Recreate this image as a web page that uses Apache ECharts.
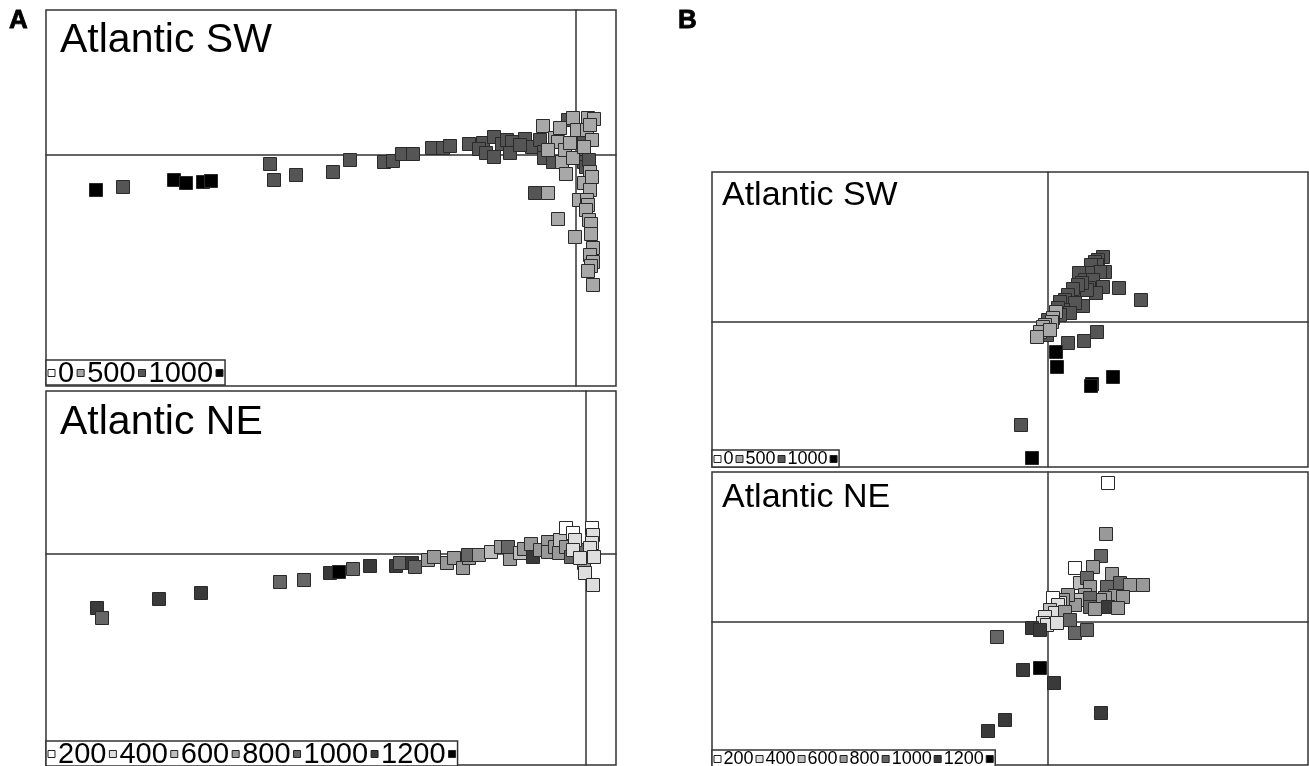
<!DOCTYPE html>
<html><head><meta charset="utf-8">
<script src="https://cdn.jsdelivr.net/npm/echarts@6/dist/echarts.min.js"></script>
<style>html,body{margin:0;padding:0;background:#fff}#c{width:1309px;height:766px}</style>
</head><body><div id="c"></div>
<script>
// ---- Data: [score axis 1, score axis 2, depth (m)] ----
const panelA_SW = [
  [-4.80,-0.35,1200],[-4.53,-0.32,750],[-4.02,-0.25,1200],[-3.90,-0.28,1200],[-3.73,-0.27,1200],[-3.65,-0.26,1200],
  [-3.06,-0.09,750],[-3.02,-0.25,750],[-2.80,-0.20,750],[-2.43,-0.17,750],[-2.26,-0.05,750],[-1.92,-0.07,750],
  [-1.83,-0.06,750],[-1.74,0.01,750],[-1.63,0.01,750],[-1.44,0.07,750],[-1.33,0.07,750],[-1.26,0.09,750],
  [-1.07,0.11,750],[-0.93,0.12,750],[-0.97,0.06,750],[-0.90,0.02,750],[-0.82,-0.02,750],[-0.82,0.18,750],
  [-0.74,0.11,750],[-0.69,0.15,750],[-0.64,0.13,750],[-0.66,0.02,750],[-0.51,0.16,750],[-0.44,0.08,750],
  [-0.56,0.10,750],[-0.36,0.15,750],[-0.32,0.03,750],[-0.32,-0.03,750],[-0.23,-0.07,750],[-0.08,0.35,750],
  [0.08,0.18,750],[0.08,-0.07,750],[0.10,-0.12,750],[0.13,-0.05,750],[-0.41,-0.38,750],
  [-0.33,0.29,250],[-0.21,0.17,250],[-0.18,0.13,250],[-0.14,-0.07,250],[-0.28,0.05,250],[-0.16,0.27,250],
  [-0.11,0.05,250],[-0.03,0.37,250],[0.12,0.37,250],[0.18,0.36,250],[-0.06,0.12,250],[0.01,0.25,250],
  [0.11,0.25,250],[0.14,0.30,250],[0.16,0.15,250],[-0.03,-0.03,250],[0.08,0.08,250],[-0.10,-0.19,250],
  [0.14,-0.17,250],[-0.28,-0.38,250],[-0.18,-0.64,250],[-0.01,-0.82,250],[0.08,-0.28,250],[0.14,-0.35,250],
  [0.16,-0.22,250],[0.03,-0.45,250],[0.11,-0.45,250],[0.12,-0.50,250],[0.10,-0.55,250],[0.13,-0.65,250],
  [0.15,-0.69,250],[0.15,-0.79,250],[0.17,-0.93,250],[0.14,-1.00,250],[0.17,-1.07,250],[0.15,-1.11,250],
  [0.12,-1.16,250],[0.17,-1.30,250]
];
const panelA_NE = [
  [-4.89,-0.54,1100],[-4.84,-0.64,900],[-4.27,-0.45,1100],[-3.85,-0.39,1100],[-3.06,-0.28,900],[-2.82,-0.26,900],
  [-2.56,-0.19,1100],[-2.47,-0.18,1300],[-2.33,-0.15,900],[-2.16,-0.12,1100],[-1.90,-0.12,1100],[-1.86,-0.09,900],
  [-1.74,-0.09,1100],[-1.71,-0.13,900],[-1.58,-0.06,700],[-1.52,-0.03,700],[-1.39,-0.09,700],[-1.32,-0.04,700],
  [-1.23,-0.14,700],[-1.17,-0.04,700],[-1.18,-0.01,900],[-1.07,-0.01,700],[-0.95,0.02,500],[-0.85,0.07,700],
  [-0.76,-0.05,700],[-0.78,0.07,900],[-0.66,0.01,500],[-0.62,0.05,700],[-0.55,0.10,700],[-0.53,-0.03,1100],
  [-0.46,0.04,700],[-0.38,0.12,700],[-0.38,0.02,700],[-0.31,0.07,700],[-0.27,0.01,700],[-0.26,0.14,500],
  [-0.20,0.07,700],[-0.15,-0.03,900],[-0.02,0.01,700],[-0.02,-0.09,700],[0.00,0.04,900],
  [-0.20,0.26,100],[-0.13,0.21,100],[0.06,0.26,100],[-0.11,0.14,300],[-0.13,0.04,300],[0.07,0.19,300],
  [0.06,0.11,300],[0.04,0.06,300],[-0.06,-0.04,300],[0.08,-0.03,300],[-0.01,-0.19,300],[0.07,-0.31,300]
];
const panelB_SW = [
  [0.55,0.65,750],[0.50,0.62,750],[0.47,0.60,750],[0.49,0.57,750],[0.57,0.50,750],[0.43,0.57,750],
  [0.52,0.50,750],[0.40,0.49,750],[0.31,0.49,750],[0.37,0.42,750],[0.45,0.42,750],[0.41,0.34,750],
  [0.55,0.35,750],[0.71,0.34,750],[0.93,0.22,750],[0.48,0.29,750],[0.39,0.32,750],[0.34,0.39,750],
  [0.30,0.37,750],[0.25,0.33,750],[0.20,0.27,750],[0.17,0.22,750],[0.35,0.16,750],[0.27,0.19,750],
  [0.12,0.20,750],[0.15,0.12,750],[0.10,0.14,750],[0.22,0.09,750],[0.12,0.07,750],[0.00,0.02,750],
  [-0.01,-0.13,750],[0.20,-0.21,750],[0.36,-0.19,750],[0.49,-0.10,750],[-0.27,-1.03,750],
  [0.08,0.10,250],[0.05,0.04,250],[0.04,0.00,250],[-0.03,-0.03,250],[-0.05,-0.05,250],[-0.08,-0.10,250],
  [-0.11,-0.15,250],[0.02,-0.08,250],
  [0.08,-0.30,1200],[0.09,-0.45,1200],[0.44,-0.62,1200],[0.43,-0.64,1200],[0.65,-0.55,1200],[-0.16,-1.36,1200]
];
const panelB_NE = [
  [0.60,1.39,100],[0.58,0.88,700],[0.53,0.66,900],[0.27,0.54,100],[0.45,0.55,700],[0.64,0.48,700],
  [0.32,0.39,500],[0.39,0.44,900],[0.42,0.35,700],[0.72,0.39,900],[0.82,0.37,700],[0.95,0.37,700],
  [0.59,0.35,900],[0.67,0.26,700],[0.75,0.25,700],[0.57,0.24,700],[0.52,0.22,700],[0.37,0.27,700],
  [0.32,0.22,500],[0.42,0.24,900],[0.60,0.15,1100],[0.70,0.14,700],[0.42,0.15,900],[0.47,0.13,700],
  [0.27,0.17,700],[0.20,0.27,700],[0.15,0.22,700],[0.12,0.19,300],[0.05,0.24,100],[0.10,0.17,300],
  [0.02,0.12,500],[0.07,0.09,300],[0.17,0.10,700],[0.22,0.02,900],[-0.03,0.05,300],[-0.05,-0.01,300],
  [-0.01,-0.03,300],[0.09,-0.01,300],[-0.16,-0.06,1100],[-0.08,-0.08,1100],[0.27,-0.11,900],[0.39,-0.08,900],
  [-0.51,-0.15,900],[-0.25,-0.48,1100],[-0.08,-0.46,1300],[0.06,-0.61,1100],[0.53,-0.91,1100],
  [-0.43,-0.98,1100],[-0.60,-1.09,1100]
];
// legend tick labels (depth, m) and grey shades of the depth classes
const labelsSW = ['0','500','1000'];
const breaksSW = [0,500,1000];
const shadesSW = ['#ffffff','#a8a8a8','#555555','#000000'];
const labelsNE = ['200','400','600','800','1000','1200'];
const breaksNE = [200,400,600,800,1000,1200];
const shadesNE = ['#ffffff','#dedede','#bdbdbd','#999999','#666666','#3a3a3a','#000000'];
const titles = ['Atlantic SW','Atlantic NE','Atlantic SW','Atlantic NE'];
const panelLetters = ['A','B'];

// ---- layout ----
const FONT = '"Liberation Sans", Arial, Helvetica, sans-serif';
const panels = [
  {grid:{left:46,top:10,width:570,height:376}, x:[-5.30,0.40], y:[-2.31,1.45], data:panelA_SW, br:breaksSW, sh:shadesSW, lab:labelsSW,
   title:{x:60,y:41,fs:41}, leg:{x:46,y:360,h:25,fs:29,sq:7,gap:3}},
  {grid:{left:46,top:391,width:570,height:374}, x:[-5.40,0.30], y:[-2.11,1.63], data:panelA_NE, br:breaksNE, sh:shadesNE, lab:labelsNE,
   title:{x:60,y:423,fs:41}, leg:{x:46,y:741,h:25,fs:29,sq:7,gap:3}},
  {grid:{left:712,top:172,width:596,height:295}, x:[-3.36,2.60], y:[-1.45,1.50], data:panelB_SW, br:breaksSW, sh:shadesSW, lab:labelsSW,
   title:{x:722,y:196,fs:34}, leg:{x:712,y:450,h:17,fs:18,sq:7,gap:2.5}},
  {grid:{left:712,top:472,width:596,height:293}, x:[-3.36,2.60], y:[-1.43,1.50], data:panelB_NE, br:breaksNE, sh:shadesNE, lab:labelsNE,
   title:{x:722,y:498,fs:34}, leg:{x:712,y:750,h:17,fs:18,sq:7,gap:2.5}}
];

const mctx = document.createElement('canvas').getContext('2d');
function legendGraphics(L, labels, colors) {
  mctx.font = L.fs + 'px ' + FONT;
  const els = [];
  let x = L.x + 2;
  const cy = L.y + L.h / 2;
  for (let i = 0; i < colors.length; i++) {
    els.push({type:'rect', shape:{x:x, y:cy - L.sq/2 + 0.5, width:L.sq, height:L.sq},
      style:{fill:colors[i], stroke:'#222', lineWidth:1}, z:10});
    x += L.sq + L.gap;
    if (i < labels.length) {
      els.push({type:'text', x:x, y:cy + 1, z:10,
        style:{text:labels[i], fontSize:L.fs, fontFamily:FONT, fill:'#000', align:'left', verticalAlign:'middle'}});
      x += mctx.measureText(labels[i]).width + L.gap;
    }
  }
  x = x - L.gap + 2;
  els.unshift({type:'rect', shape:{x:L.x, y:L.y, width:x - L.x, height:L.h},
    style:{fill:'#fff', stroke:'#333', lineWidth:1.5}, z:9});
  return els;
}

function pieces(br, sh) {
  const p = [{lt:br[0], color:sh[0]}];
  for (let i = 0; i < br.length - 1; i++) p.push({gte:br[i], lt:br[i+1], color:sh[i+1]});
  p.push({gte:br[br.length-1], color:sh[br.length]});
  return p;
}

const axisCommon = {type:'value', axisTick:{show:false}, axisLabel:{show:false}, splitLine:{show:false},
  axisLine:{show:true, onZero:true, lineStyle:{color:'#333', width:1.5}}};

const graphics = [];
panels.forEach((p, i) => {
  graphics.push({type:'text', x:p.title.x, y:p.title.y, z:10,
    style:{text:titles[i], fontSize:p.title.fs, fontFamily:FONT, fill:'#000', verticalAlign:'middle'}});
  legendGraphics(p.leg, p.lab, p.sh).forEach(e => graphics.push(e));
});

const letterStyle = {fontSize:26, fontWeight:'bold', fontFamily:'"Liberation Sans", Arial, sans-serif', color:'#000', textBorderColor:'#000', textBorderWidth:0.8};
const option = {
  animation:false,
  backgroundColor:'#fff',
  title: [
    {text:panelLetters[0], left:9, top:8, padding:0, textStyle:letterStyle},
    {text:panelLetters[1], left:678, top:8, padding:0, textStyle:letterStyle}
  ],
  grid: panels.map(p => Object.assign({show:true, borderColor:'#333', borderWidth:1.5, backgroundColor:'transparent'}, p.grid)),
  xAxis: panels.map((p, i) => Object.assign({}, axisCommon, {gridIndex:i, min:p.x[0], max:p.x[1]})),
  yAxis: panels.map((p, i) => Object.assign({}, axisCommon, {gridIndex:i, min:p.y[0], max:p.y[1]})),
  visualMap: panels.map((p, i) => ({type:'piecewise', show:false, seriesIndex:i, dimension:2, pieces:pieces(p.br, p.sh)})),
  series: panels.map((p, i) => ({type:'scatter', xAxisIndex:i, yAxisIndex:i, data:p.data, symbol:'rect', symbolSize:13,
    itemStyle:{borderColor:'#2a2a2a', borderWidth:1, opacity:1}, emphasis:{disabled:true}})),
  graphic: graphics
};
const chart = echarts.init(document.getElementById('c'), null, {renderer:'canvas'});
chart.setOption(option);
</script>
</body></html>
